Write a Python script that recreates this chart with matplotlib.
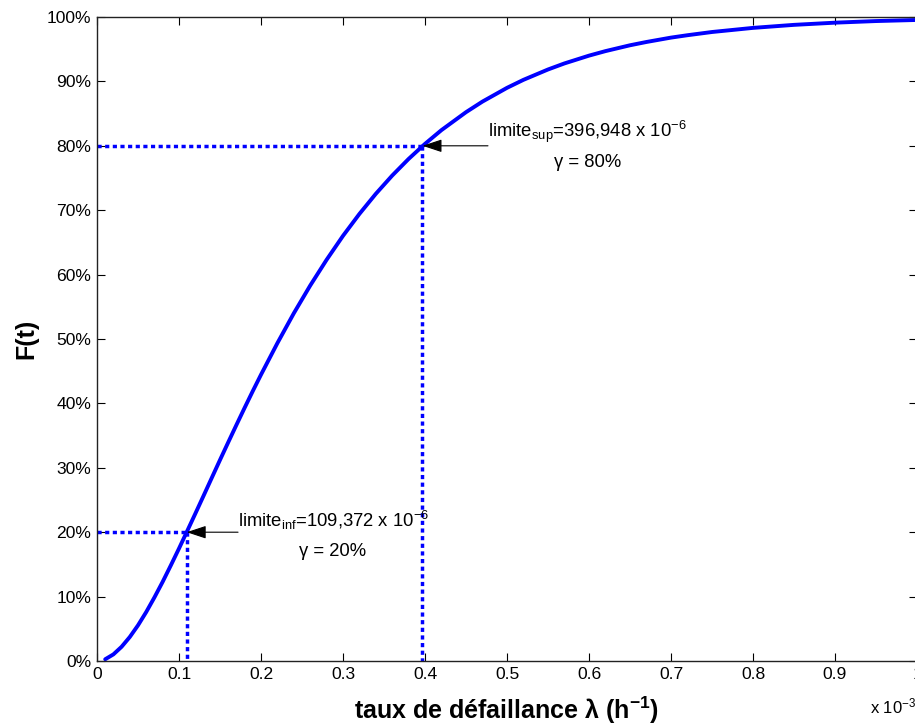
import numpy as np
import matplotlib
matplotlib.use("Agg")
from matplotlib import pyplot as plt
from matplotlib.ticker import PercentFormatter, FuncFormatter, MultipleLocator

plt.rcParams['font.family'] = ['Liberation Sans', 'DejaVu Sans']
plt.rcParams['mathtext.fontset'] = 'custom'
plt.rcParams['mathtext.rm'] = 'Liberation Sans'
plt.rcParams['mathtext.it'] = 'Liberation Sans:italic'
plt.rcParams['mathtext.bf'] = 'Liberation Sans:bold'

# failure rate (x 10^-3 h^-1) and cumulative probability F(t) in %
lam = [0.01, 0.02, 0.03, 0.04, 0.05, 0.06, 0.07, 0.08, 0.09, 0.10, 0.11, 0.12,
       0.13, 0.14, 0.15, 0.16, 0.17, 0.18, 0.19, 0.20, 0.22, 0.24, 0.26, 0.28,
       0.30, 0.32, 0.34, 0.36, 0.38, 0.40, 0.42, 0.45, 0.47, 0.50, 0.52, 0.55,
       0.57, 0.60, 0.62, 0.65, 0.67, 0.70, 0.72, 0.75, 0.80, 0.85, 0.90, 0.95, 1.00]
F = [0.27, 1.03, 2.21, 3.73, 5.54, 7.60, 9.87, 12.28, 14.84, 17.47, 20.18, 22.91,
     25.67, 28.45, 31.22, 33.95, 36.65, 39.31, 41.92, 44.46, 49.36, 53.99, 58.30, 62.30,
     66.02, 69.42, 72.54, 75.38, 77.96, 80.30, 82.43, 85.22, 86.86, 89.00, 90.24, 91.85,
     92.79, 94.00, 94.70, 95.61, 96.12, 96.80, 97.17, 97.67, 98.31, 98.78, 99.12, 99.37, 99.54]

# confidence limits
lim_inf = 0.109372
lim_sup = 0.396948
gamma_inf = 20
gamma_sup = 80

fig = plt.figure(figsize=(9.15, 7.27), dpi=100)
ax = fig.add_axes([97/915, 1 - 661/727, 820/915, 644/727])

ax.plot(lam, F, color=(0, 0, 1), lw=2.8, solid_capstyle='round', solid_joinstyle='round')

dots = (0, (1.2, 1.0))
for xv, yv in [(lim_inf, gamma_inf), (lim_sup, gamma_sup)]:
    ax.plot([0, xv], [yv, yv], color=(0, 0, 1), lw=2.5, linestyle=dots)
    ax.plot([xv, xv], [yv, 0], color=(0, 0, 1), lw=2.5, linestyle=dots)

arrow = dict(arrowstyle='-|>,head_length=1.0,head_width=0.33', color='black',
             lw=0.8, mutation_scale=12, shrinkA=0, shrinkB=0)
ax.annotate('', xy=(lim_sup, gamma_sup), xytext=(0.4768, gamma_sup), arrowprops=arrow)
ax.annotate('', xy=(lim_inf, gamma_inf), xytext=(0.172, gamma_inf), arrowprops=arrow)

fs = 13.3
ax.text(0.4768, 81.4, r'limite$_{\mathrm{sup}}$=396,948 x 10$^{\mathrm{-6}}$',
        fontsize=fs, ha='left', va='baseline')
ax.text(0.5988, 76.76, 'γ = 80%', fontsize=fs, ha='center', va='baseline')
ax.text(0.172, 20.85, r'limite$_{\mathrm{inf}}$=109,372 x 10$^{\mathrm{-6}}$',
        fontsize=fs, ha='left', va='baseline')
ax.text(0.2878, 16.35, 'γ = 20%', fontsize=fs, ha='center', va='baseline')

ax.set_xlim(0, 1)
ax.set_ylim(0, 100)
ax.xaxis.set_major_locator(MultipleLocator(0.1))
ax.yaxis.set_major_locator(MultipleLocator(10))
ax.xaxis.set_major_formatter(FuncFormatter(lambda v, p: f"{v:g}"))
ax.yaxis.set_major_formatter(PercentFormatter(xmax=100, decimals=0))
ax.tick_params(direction='in', length=5.8, width=0.8, top=True, right=True,
               labelsize=12.6, colors='black')
ax.tick_params(axis='x', pad=4)
ax.tick_params(axis='y', pad=4)
for s in ax.spines.values():
    s.set_linewidth(1.0)
    s.set_color('#222222')

ax.set_xlabel(r'taux de défaillance λ (h$^{\mathbf{-1}}$)', fontsize=18,
              fontweight='bold', va='baseline')
ax.xaxis.set_label_coords(0.5, -(719 - 661) / 644)
ax.set_ylabel('F(t)', fontsize=18, fontweight='bold', va='baseline')
ax.yaxis.set_label_coords((33 - 97) / 820, 0.5)

fig.text(870/915, 1 - 713/727, r'x 10$^{\mathrm{-3}}$', fontsize=12,
         ha='left', va='baseline')

fig.savefig("out.png", dpi=100)
